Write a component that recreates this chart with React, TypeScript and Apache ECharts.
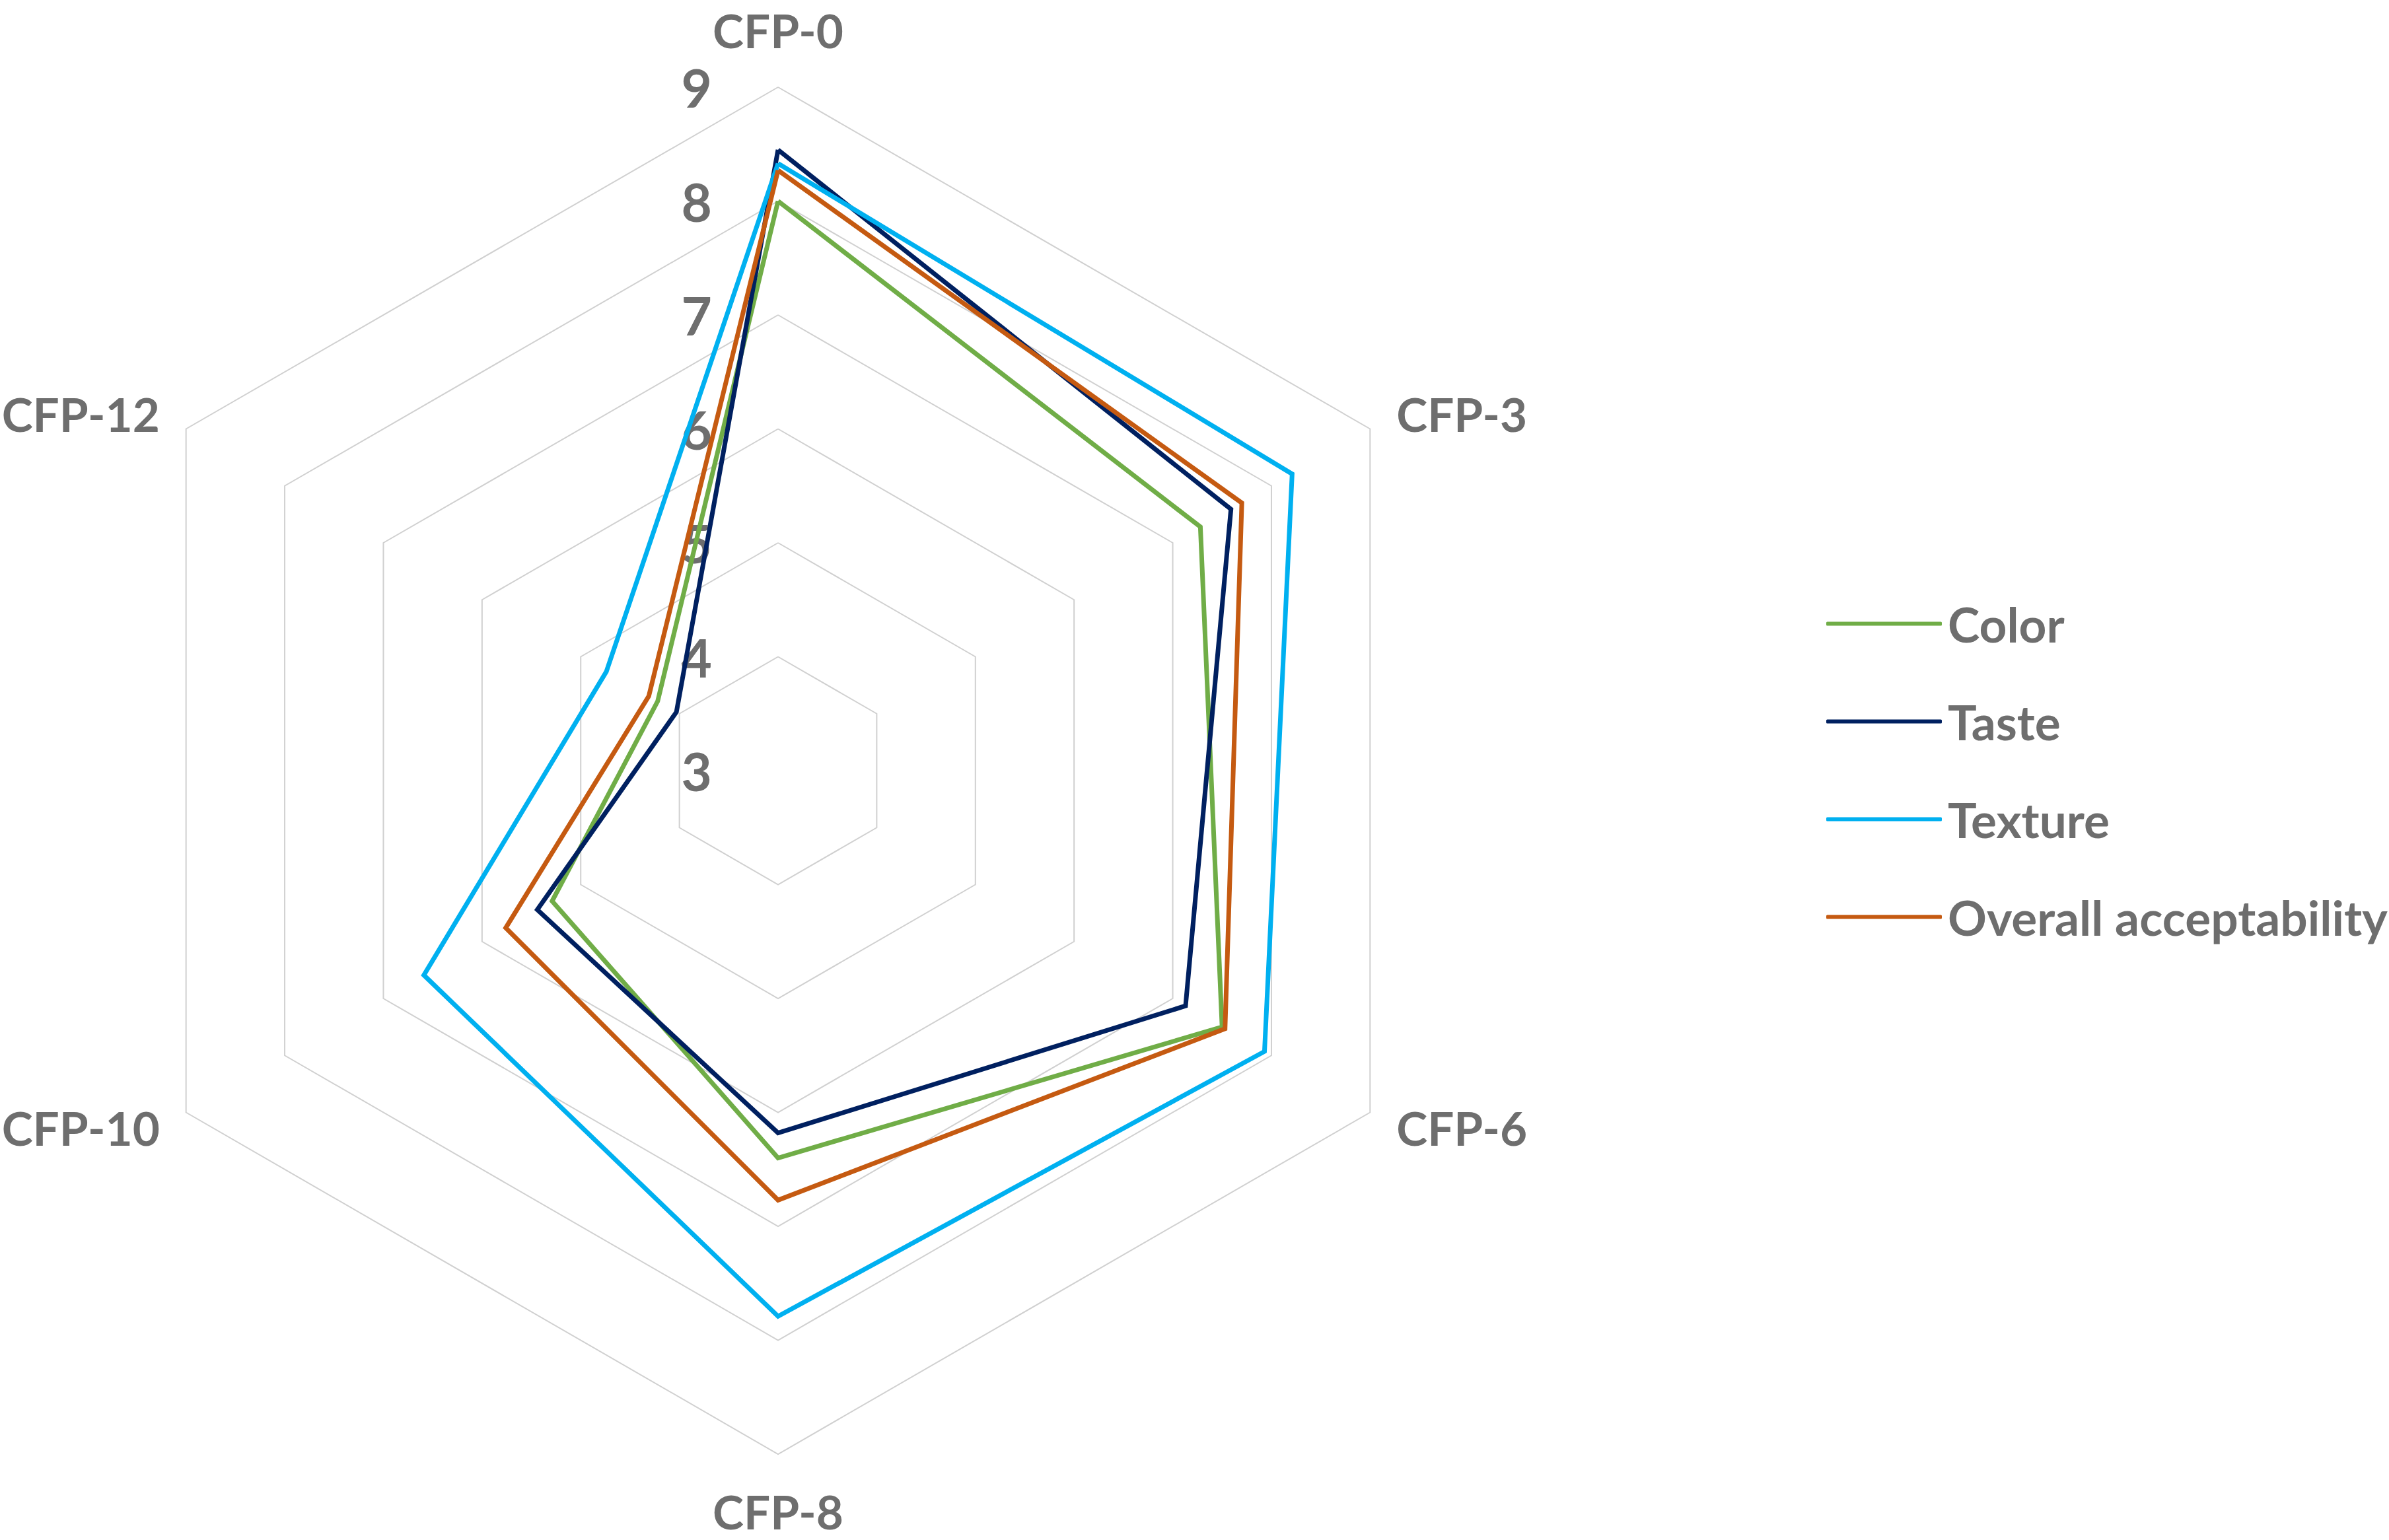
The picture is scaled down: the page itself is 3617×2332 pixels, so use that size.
import React, { useEffect, useRef } from "react";
import * as echarts from "echarts";

// Axes in the reference order (clockwise from the top)
const categories = ["CFP-0", "CFP-3", "CFP-6", "CFP-8", "CFP-10", "CFP-12"];
const seriesNames = ["Color", "Taste", "Texture", "Overall acceptability"];
const colorValues = [8.0, 7.28, 7.5, 6.4, 5.29, 4.22];
const tasteValues = [8.45, 7.59, 7.13, 6.18, 5.44, 4.03];
const textureValues = [8.33, 8.21, 7.93, 7.79, 6.59, 4.74];
const overallValues = [8.27, 7.7, 7.53, 6.77, 5.76, 4.31];
const axisMin = 3;
const axisMax = 9;
const seriesColors = ["#70AD47", "#002060", "#00B0F0", "#C55A11"];

const TEXT = "#6E6E6E";
const FONT = "Lato";

export default function App() {
  const ref = useRef<HTMLDivElement>(null);
  useEffect(() => {
    if (!ref.current) return;
    const chart = echarts.init(ref.current, null, { renderer: "svg" });
    // ECharts lays indicators out counter-clockwise: CFP-0, then the others in reverse
    const order = [0, 5, 4, 3, 2, 1];
    const reorder = (arr: number[]) => order.map((i) => arr[i]);
    const all = [colorValues, tasteValues, textureValues, overallValues];
    chart.setOption({
      animation: false,
      backgroundColor: "#ffffff",
      legend: {
        orient: "vertical",
        left: 2760,
        top: 903,
        itemWidth: 175,
        itemHeight: 6,
        itemGap: 75,
        icon: "roundRect",
        data: seriesNames,
        textStyle: {
          color: TEXT,
          fontFamily: FONT,
          fontWeight: "bold",
          fontSize: 73,
          padding: [0, 0, 0, 4],
        },
        itemStyle: { borderWidth: 0 },
      },
      radar: {
        center: [1178, 1167],
        radius: 1035,
        startAngle: 90,
        shape: "polygon",
        splitNumber: 6,
        nameGap: 46,
        axisName: {
          color: TEXT,
          fontFamily: FONT,
          fontWeight: "bold",
          fontSize: 71,
          padding: [5, 0, 5, 0],
        },
        axisLine: { show: false },
        axisTick: { show: false },
        axisLabel: { show: false },
        splitArea: { show: false },
        splitLine: { lineStyle: { color: "#D0D0D0", width: 2 } },
        indicator: order.map((i, k) => {
          const ind: any = { name: categories[i], min: axisMin, max: axisMax };
          if (k === 0) {
            ind.axisLabel = {
              show: true,
              color: TEXT,
              fontFamily: FONT,
              fontWeight: "bold",
              fontSize: 80,
              margin: 100,
            };
          }
          return ind;
        }),
      },
      series: [
        {
          type: "radar",
          symbol: "none",
          data: seriesNames.map((name, si) => ({
            name,
            value: reorder(all[si]),
            lineStyle: { color: seriesColors[si], width: 7, join: "miter" },
            itemStyle: { color: seriesColors[si] },
          })),
        },
      ],
    });
    return () => chart.dispose();
  }, []);
  return (
    <div
      ref={ref}
      style={{ position: "absolute", left: 0, top: 0, width: 3617, height: 2332 }}
    />
  );
}
